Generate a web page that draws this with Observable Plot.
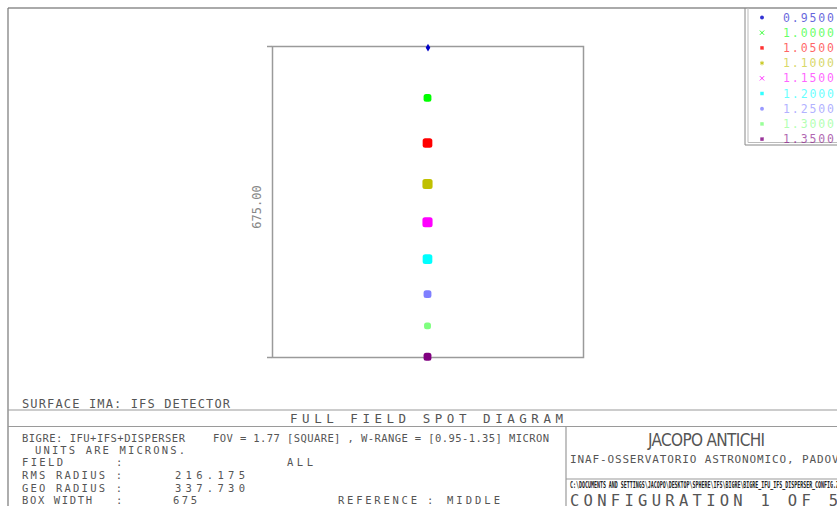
<!DOCTYPE html>
<html><head><meta charset="utf-8">
<script src="https://cdn.jsdelivr.net/npm/d3@7"></script>
<script src="https://cdn.jsdelivr.net/npm/@observablehq/plot@0.6"></script>
<style>
html,body{margin:0;padding:0;background:#fff;overflow:hidden}
svg{display:block}
</style></head><body><div id="chart"></div>
<script>
// ---- data ----
const wavelengths = ["0.9500","1.0000","1.0500","1.1000","1.1500","1.2000","1.2500","1.3000","1.3500"];
const spotColors  = ["#0000c8","#00ff00","#ff0000","#c0c000","#ff00ff","#00ffff","#7f7fff","#7fff7f","#800080"];
const spotX       = [0, 0, 0, 0, 0, 0, 0, 0, 0];                       // microns
const spotY       = [335, 225, 127, 38, -45, -125, -201, -270, -337];    // microns
const spotSize    = [11, 17, 21, 22, 22, 21, 17, 15, 17];                // microns
const legendSymbols = ["circle","times","square","asterisk","times","square","circle","square","square"];
const boxWidth = 675;
const boxLabel = "675.00";
const rmsRadius = "216.175";
const geoRadius = "337.730";

const spots = wavelengths.map((w, i) => ({w, x: spotX[i], y: spotY[i], s: spotSize[i], c: spotColors[i]}));
const half = boxWidth / 2;

const plot = Plot.plot({
  width: 837, height: 506,
  marginLeft: 272, marginRight: 254, marginTop: 46, marginBottom: 149,
  style: {background: "white", fontFamily: "DejaVu Sans Mono"},
  x: {domain: [-half, half], axis: null},
  y: {domain: [-half, half], axis: null},
  marks: [
    Plot.frame({stroke: "#9a9a9a", strokeWidth: 1.5}),
    Plot.axisY([-half, half], {tickSize: 5, tickFormat: () => "", label: null, stroke: "#9a9a9a", strokeWidth: 1.5}),
    Plot.text([boxLabel], {text: d => d, frameAnchor: "left", textAnchor: "middle", rotate: -90, dx: -15, dy: 5, fill: "#888", fontSize: 12, fontFamily: "DejaVu Sans Mono"}),
    Plot.rect(spots.slice(1), {
      x1: d => d.x - d.s / 2, x2: d => d.x + d.s / 2,
      y1: d => d.y - d.s / 2, y2: d => d.y + d.s / 2,
      fill: d => d.c, rx: 2.5, inset: 0
    }),
    Plot.dot(spots.slice(0, 1), {x: "x", y: "y", fill: d => d.c, symbol: "diamond", r: 2.4})
  ]
});
document.getElementById("chart").appendChild(plot);

// ---- annotation block (Zemax-style frame and text) ----
const svg = d3.select(plot);
const g = svg.append("g").attr("text-anchor", "start");
const line = (x1, y1, x2, y2, stroke = "#9a9a9a", w = 1.2) =>
  g.append("line").attr("x1", x1).attr("y1", y1).attr("x2", x2).attr("y2", y2)
   .attr("stroke", stroke).attr("stroke-width", w);
line(8, 8, 837, 8, "#aaa", 2);
line(8, 8, 8, 506, "#777", 1.2);
line(8, 410, 837, 410);
line(8, 426.5, 837, 426.5);
line(566, 426.5, 566, 506);
line(566, 479, 837, 479);

const txt = (x, y, s, size, len, opts = {}) => {
  const t = g.append("text").attr("x", x).attr("y", y).text(s)
    .attr("text-anchor", opts.anchor || "start")
    .attr("font-family", opts.family || "DejaVu Sans Mono")
    .attr("font-size", size).attr("fill", opts.fill || "#555");
  if (len) t.attr("textLength", len).attr("lengthAdjust", opts.adjust || "spacing");
  if (opts.weight) t.attr("font-weight", opts.weight);
  return t;
};
const fs = 10.5;
txt(22, 408, "SURFACE IMA: IFS DETECTOR", 12, 208);
txt(290, 422.5, "FULL FIELD SPOT DIAGRAM", 12.5, 273);
txt(22, 441.5, "BIGRE: IFU+IFS+DISPERSER", fs, 163);
txt(213, 441.5, "FOV = 1.77 [SQUARE] , W-RANGE = [0.95-1.35] MICRON", fs, 336);
txt(35, 454, "UNITS ARE MICRONS.", fs, 150);
txt(22, 466, "FIELD", fs, 41);
txt(116, 466, ":", fs);
txt(287, 466, "ALL", fs, 26);
txt(22, 479, "RMS RADIUS :", fs, 100);
txt(175, 479, rmsRadius, fs, 70);
txt(22, 492, "GEO RADIUS :", fs, 100);
txt(175, 492, geoRadius, fs, 70);
txt(22, 504, "BOX WIDTH", fs, 70);
txt(116, 504, ":", fs);
txt(173, 504, String(boxWidth), fs, 24);
txt(338, 504, "REFERENCE", fs, 79);
txt(427, 504, ":", fs);
txt(447, 504, "MIDDLE", fs, 53);

txt(648, 446, "JACOPO ANTICHI", 17, 117, {family: "DejaVu Sans Condensed"});
txt(570, 463, "INAF-OSSERVATORIO ASTRONOMICO, PADOVA", 11, 276);
txt(570, 488, "C:\\DOCUMENTS AND SETTINGS\\JACOPO\\DESKTOP\\SPHERE\\IFS\\BIGRE\\BIGRE_IFU_IFS_DISPERSER_CONFIG.ZMX", 9, 275, {adjust: "spacingAndGlyphs", weight: "bold", fill: "#222"});
txt(570, 506, "CONFIGURATION 1 OF 5", 15.5, 268);

// ---- legend ----
const lg = svg.append("g");
lg.append("path").attr("d", "M745,8 V145 H837").attr("fill", "none").attr("stroke", "#888").attr("stroke-width", 1);
lg.append("path").attr("d", "M748,8 V142.5 H837").attr("fill", "none").attr("stroke", "#bbb").attr("stroke-width", 1);
const symMap = {circle: d3.symbolCircle, times: d3.symbolTimes, square: d3.symbolSquare, asterisk: d3.symbolAsterisk};
wavelengths.forEach((w, i) => {
  const y = 17.5 + i * 15.2;
  const type = symMap[legendSymbols[i]];
  const stroked = type === d3.symbolTimes || type === d3.symbolAsterisk;
  lg.append("path").attr("d", d3.symbol(type, stroked ? 14 : 12)())
    .attr("transform", `translate(762,${y})`)
    .attr("fill", stroked ? "none" : spotColors[i])
    .attr("stroke", stroked ? spotColors[i] : "none")
    .attr("opacity", 0.8);
  lg.append("text").attr("x", 783).attr("y", y + 4).text(w)
    .attr("text-anchor", "start")
    .attr("font-family", "DejaVu Sans Mono").attr("font-size", 11.5)
    .attr("textLength", 51).attr("lengthAdjust", "spacing")
    .attr("fill", spotColors[i]).attr("opacity", 0.6);
});
</script></body></html>
